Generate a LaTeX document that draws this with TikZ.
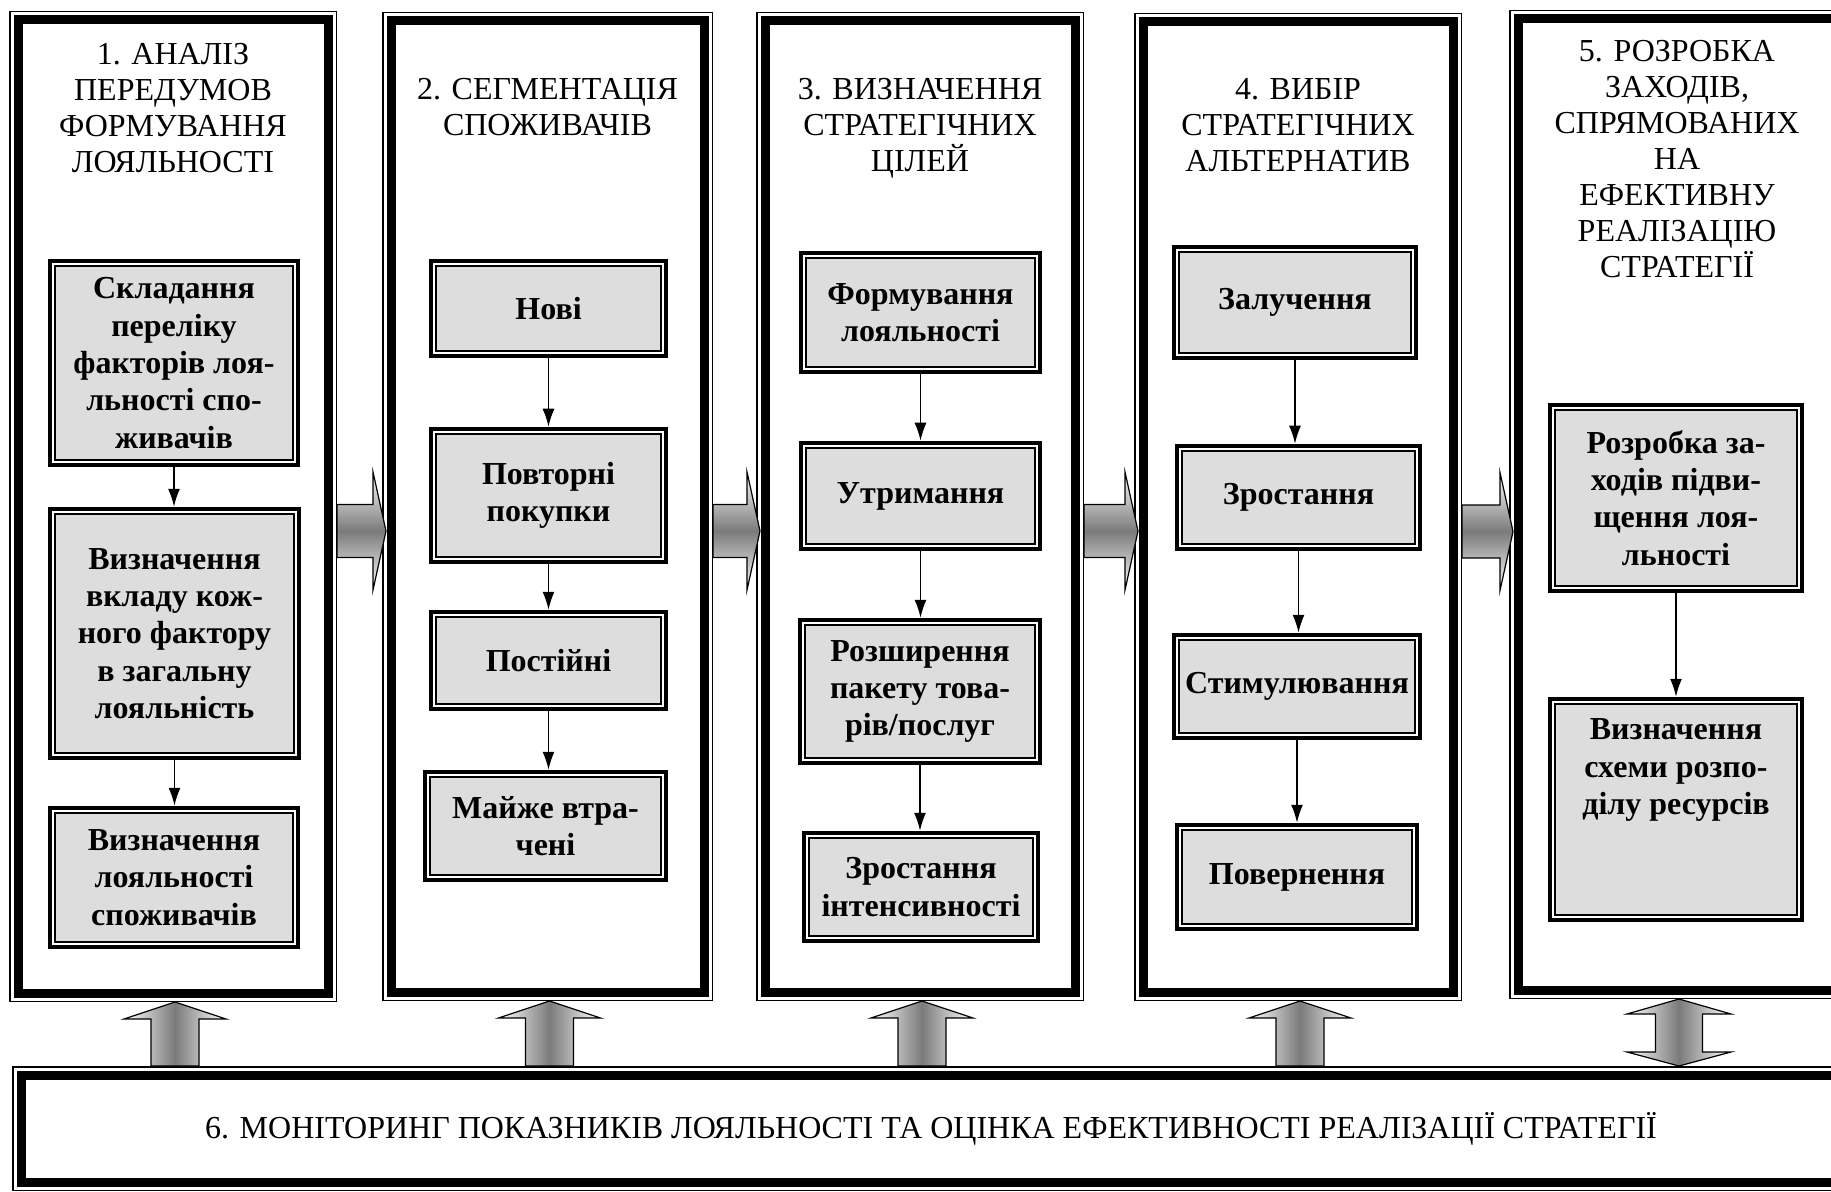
\documentclass[tikz,border=0pt]{standalone}
\usepackage{fontspec}
\setmainfont{Liberation Serif}
\usepackage{tikz}
\usetikzlibrary{arrows.meta,calc}
\definecolor{boxgray}{HTML}{DDDDDD}

\begin{document}
\begin{tikzpicture}
                [
                x=0.5pt, y=-0.5pt,
                column/.style={draw, fill=white, line width=4.5pt, outer sep=4.5pt, inner sep=0pt,
                  preaction={draw, line width=9pt}, preaction={draw=white, line width=7.5pt}},
                heading/.style={anchor=north, inner sep=0pt, align=center, font=\fontsize{16}{18}\selectfont},
                stage/.style={draw, fill=boxgray, line width=0.75pt, outer sep=3.625pt, inner sep=1pt,
                  align=center, font=\fontsize{16}{18.7}\selectfont\bfseries,
                  preaction={draw, line width=7.25pt}, preaction={draw=white, line width=3.25pt}},
                link/.style={-{Latex[length=9pt,width=6pt]}, line width=0.75pt},
                hshade/.style={draw, line width=0.6pt, top color=white, bottom color=white, middle color=black!52},
                vshade/.style={draw, line width=0.6pt, left color=white, right color=white, middle color=black!52}
                ]
            \useasboundingbox (0,0) rectangle (1831,1192);
            \clip (0,0) rectangle (1831,1192);
            % columns
            \node[column, minimum width=155pt, minimum height=486.5pt] (c1) at (173,506.5) {};
            \node[column, minimum width=156.5pt, minimum height=485.5pt] (c2) at (547.5,506.5) {};
            \node[column, minimum width=155pt, minimum height=485.5pt] (c3) at (920,506.5) {};
            \node[column, minimum width=155pt, minimum height=485pt] (c4) at (1298,507) {};
            \node[column, minimum width=161pt, minimum height=485.5pt] (c5) at (1679,504.5) {};
            \node[column, minimum width=910pt, minimum height=53.5pt, font=\fontsize{16}{18}\selectfont] (bot) at (931,1128.5)
                {6. МОНІТОРИНГ ПОКАЗНИКІВ ЛОЯЛЬНОСТІ ТА ОЦІНКА ЕФЕКТИВНОСТІ РЕАЛІЗАЦІЇ СТРАТЕГІЇ};
            % titles
            \node[heading] (t1) at (173,43) {1. АНАЛІЗ\\ПЕРЕДУМОВ\\ФОРМУВАННЯ\\ЛОЯЛЬНОСТІ};
            \node[heading] (t2) at (547.5,78) {2. СЕГМЕНТАЦІЯ\\СПОЖИВАЧІВ};
            \node[heading] (t3) at (920,78) {3. ВИЗНАЧЕННЯ\\СТРАТЕГІЧНИХ\\ЦІЛЕЙ};
            \node[heading] (t4) at (1298,78) {4. ВИБІР\\СТРАТЕГІЧНИХ\\АЛЬТЕРНАТИВ};
            \node[heading] (t5) at (1677,40) {5. РОЗРОБКА\\ЗАХОДІВ,\\СПРЯМОВАНИХ\\НА\\ЕФЕКТИВНУ\\РЕАЛІЗАЦІЮ\\СТРАТЕГІЇ};
            % column 1
            \node[stage, minimum width=119pt, minimum height=97pt] (s11) at (174,363) {Складання\\переліку\\факторів лоя-\\льності спо-\\живачів};
            \node[stage, minimum width=119.5pt, minimum height=119.5pt] (s12) at (174.5,633.5) {Визначення\\вкладу кож-\\ного фактору\\в загальну\\лояльність};
            \node[stage, minimum width=119pt, minimum height=64.5pt] (s13) at (174,877.5) {Визначення\\лояльності\\споживачів};
            % column 2
            \node[stage, minimum width=112.5pt, minimum height=42.5pt] (s21) at (548.5,308.5) {Нові};
            \node[stage, minimum width=112.5pt, minimum height=61.5pt] (s22) at (548.5,495.5) {Повторні\\покупки};
            \node[stage, minimum width=112.5pt, minimum height=43.5pt] (s23) at (548.5,660.5) {Постійні};
            \node[stage, minimum width=115.5pt, minimum height=49pt] (s24) at (545.5,826) {Майже втра-\\чені};
            % column 3
            \node[stage, minimum width=114.5pt, minimum height=54.5pt] (s31) at (920.5,312.5) {Формування\\лояльності};
            \node[stage, minimum width=114.5pt, minimum height=48pt] (s32) at (920.5,496) {Утримання};
            \node[stage, minimum width=115pt, minimum height=66.5pt] (s33) at (920,691.5) {Розширення\\пакету това-\\рів/послуг};
            \node[stage, minimum width=112pt, minimum height=49pt] (s34) at (921,887) {Зростання\\інтенсивності};
            % column 4
            \node[stage, minimum width=116pt, minimum height=50.5pt] (s41) at (1295,302.5) {Залучення};
            \node[stage, minimum width=116.5pt, minimum height=46.5pt] (s42) at (1298.5,497.5) {Зростання};
            \node[stage, minimum width=118pt, minimum height=46.5pt] (s43) at (1297,686.5) {Стимулювання};
            \node[stage, minimum width=115pt, minimum height=47pt] (s44) at (1297,877) {Повернення};
            % column 5
            \node[stage, minimum width=121pt, minimum height=88pt] (s51) at (1676,498) {Розробка за-\\ходів підви-\\щення лоя-\\льності};
            \node[stage, minimum width=121pt, minimum height=105.5pt] (s52) at (1676,809.5) {Визначення\\схеми розпо-\\ділу ресурсів\\[24pt]\mbox{}};
            % links inside the columns
            \foreach \u/\v in {s11/s12, s12/s13, s21/s22, s22/s23, s23/s24, s31/s32, s32/s33, s33/s34,
                               s41/s42, s42/s43, s43/s44, s51/s52}
                \draw[link] (\u.south) -- (\u.south |- \v.north);
            % block arrows between the columns
            \foreach \a/\b in {c1/c2, c2/c3, c3/c4, c4/c5}
                \path[hshade] ($(\a.east)+(0,-2)$) -- ($(\b.west |- \a.east)+(-9,-2)$) -- ++(0,-32.5)
                    -- ($(\b.west |- \a.east)+(4,24.5)$) -- ($(\b.west |- \a.east)+(-9,83.5)$) -- ++(0,-32.5)
                    -- ($(\a.east)+(0,51)$) -- cycle;
            % block arrows from the monitoring box
            \foreach \c in {c1, c2, c3, c4}
                \path[vshade] ($(\c.south)+(2,0)$) -- ++(51,17) -- ++(-27,0) -- ($(\c.south |- bot.north)+(26,0)$)
                    -- ++(-48,0) -- ($(\c.south)+(-22,17)$) -- ++(-27,0) -- cycle;
            \path[vshade] (c5.south) -- ++(52,15) -- ++(-28.5,0) -- ($(c5.south |- bot.north)+(23.5,-14)$) -- ++(28.5,0)
                -- (c5.south |- bot.north) -- ++(-52,-14) -- ++(28.5,0) -- ($(c5.south)+(-23.5,15)$) -- ++(-28.5,0) -- cycle;
            \end{tikzpicture}
\end{document}
